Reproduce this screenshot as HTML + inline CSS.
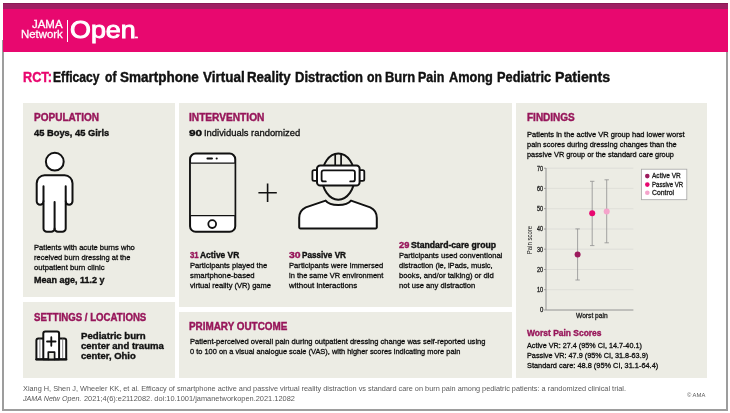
<!DOCTYPE html>
<html lang="en">
<head>
<meta charset="utf-8">
<title>RCT: Efficacy of Smartphone Virtual Reality Distraction on Burn Pain Among Pediatric Patients</title>
<style>
html,body{margin:0;padding:0;background:#fff;}
body{width:730px;height:413px;overflow:hidden;position:relative;font-family:"Liberation Sans",sans-serif;}
#frame{position:absolute;left:0;top:0;width:730px;height:413px;}
#border{position:absolute;left:2.4px;top:40px;width:721.7px;height:368.6px;border:2px solid #9d9d9d;border-top:none;box-sizing:content-box;}
#stripe{position:absolute;left:2.5px;top:2.9px;width:725.3px;height:6.7px;background:linear-gradient(#8a1a55 0,#8a1a55 0.9px,#9e1f63 0.9px);}
#banner{position:absolute;left:2.5px;top:9.45px;width:725.3px;height:42.15px;background:#e8086f;}
#logobar{position:absolute;left:67.1px;top:20.1px;width:0.9px;height:21.8px;background:#fff;}
.panel{position:absolute;background:#ecece4;}
#p-pop{left:22.8px;top:103px;width:152.2px;height:194.2px;}
#p-set{left:22.8px;top:302px;width:152.2px;height:75.7px;}
#p-int{left:179.3px;top:103px;width:333.1px;height:204.1px;}
#p-out{left:179.3px;top:311.6px;width:333.1px;height:66.1px;}
#p-fin{left:516.4px;top:103px;width:191px;height:274.7px;}
#art{position:absolute;left:0;top:0;width:730px;height:413px;}
#texts{position:absolute;left:0;top:0;width:730px;height:413px;}
.t{position:absolute;white-space:nowrap;transform-origin:0 0;display:block;line-height:20px;}
.ttl{-webkit-text-stroke:0.4px currentColor;}
.b{-webkit-text-stroke:0.38px currentColor;}
.h{-webkit-text-stroke:0.4px currentColor;}
.r{-webkit-text-stroke:0.3px currentColor;}
.lg{-webkit-text-stroke:0.3px currentColor;}
.op{-webkit-text-stroke:0.95px currentColor;}

</style>
</head>
<body>
<div id="frame">
<div id="border"></div>
<div id="stripe"></div>
<div id="banner"></div>
<div id="logobar"></div>
<div class="panel" id="p-pop"></div>
<div class="panel" id="p-set"></div>
<div class="panel" id="p-int"></div>
<div class="panel" id="p-out"></div>
<div class="panel" id="p-fin"></div>
<svg id="art" width="730" height="413" viewBox="0 0 730 413">
<!-- person icon -->
<g fill="#fff" stroke="#111" stroke-width="2" stroke-linejoin="round" stroke-linecap="round">
<circle cx="54.8" cy="161.7" r="8.9"/>
<path d="M44.6 175.3 H64.6 a7.9 7.9 0 0 1 7.9 7.9 V201.3 a3.4 3.4 0 0 1 -6.8 0 V228.4 a3.4 3.4 0 0 1 -3.4 3.4 H58 a3.4 3.4 0 0 1 -3.4 -3.4 a3.4 3.4 0 0 1 -3.4 3.4 H46.9 a3.4 3.4 0 0 1 -3.4 -3.4 V201.3 a3.4 3.4 0 0 1 -6.8 0 V183.2 a7.9 7.9 0 0 1 7.9 -7.9 Z"/>
<path d="M43.5 186.3 V201 M65.7 186.3 V201 M54.6 202 V228.4" fill="none"/>
</g>
<!-- phone icon -->
<g stroke="#111" stroke-linejoin="round" stroke-linecap="round">
<rect x="190.05" y="153.55" width="45.2" height="78.2" rx="5.6" ry="5.6" fill="#fff" stroke-width="2"/>
<rect x="190.9" y="163.1" width="43.5" height="52.6" fill="#ecece4" stroke="none"/>
<path d="M190.9 163.1 H234.4 M190.9 215.7 H234.4" fill="none" stroke-width="1.2"/>
<path d="M207.4 158.5 H212" fill="none" stroke-width="1.9"/>
<circle cx="216.7" cy="158.5" r="1.05" fill="#111" stroke="none"/>
<circle cx="212.2" cy="224.1" r="3.9" fill="#fff" stroke-width="1.8"/>
</g>
<!-- plus -->
<path d="M258.4 192.7 H276.8 M267.6 183.5 V201.9" fill="none" stroke="#111" stroke-width="1.6"/>
<!-- VR headset person -->
<g stroke="#111" stroke-width="2" stroke-linejoin="round" stroke-linecap="round">
<ellipse cx="338.3" cy="176.6" rx="16.4" ry="23.1" fill="#ecece4"/>
<path d="M335.2 154.4 V165 M341.1 154.4 V165" fill="none" stroke-width="1.7"/>
<rect x="312.4" y="170.1" width="6" height="10.8" rx="1.6" fill="#fff" stroke-width="1.8"/>
<rect x="358.3" y="170.1" width="6" height="10.8" rx="1.6" fill="#fff" stroke-width="1.8"/>
<rect x="317" y="165.4" width="42.6" height="20.2" rx="3.2" fill="#fff"/>
<path d="M325.8 181.4 H323.6 a2 2 0 0 1 -2 -2 V172.3 a2 2 0 0 1 2 -2 H352.9 a2 2 0 0 1 2 2 V179.4 a2 2 0 0 1 -2 2 H350.2" fill="none" stroke-width="1.8"/>
<path d="M325.6 200.6 C330 206.4 346.6 206.4 351 200.6 L370.2 207.4 C374.5 209.4 376.8 213.5 376.8 218 V227.2 a1.2 1.2 0 0 1 -1.2 1.2 H300.4 a1.2 1.2 0 0 1 -1.2 -1.2 V218 C299.2 213.5 301.5 209.4 305.8 207.4 Z" fill="#fff"/>
</g>
<!-- hospital icon -->
<g stroke="#111" stroke-width="2" stroke-linejoin="round" stroke-linecap="round" fill="#fff">
<path d="M36.4 359.3 V340.4 a2 2 0 0 1 2 -2 H64.2 a2 2 0 0 1 2 2 V359.3 Z"/>
<path d="M39.9 338.8 V359 M62.7 338.8 V359" fill="none" stroke="#666" stroke-width="0.8"/>
<path d="M43.3 359.3 V333.5 a2 2 0 0 1 2 -2 H57.1 a2 2 0 0 1 2 2 V359.3 Z"/>
<path d="M48.3 359.3 V352.2 H54.6 V359.3" fill="#ecece4" stroke-width="1.7"/>
<path d="M47 341.5 H55.6 M51.3 337.2 V345.8" fill="none" stroke-width="1.8"/>
<path d="M36.2 359.5 H66.4" fill="none" stroke-width="2"/>
</g>
<!-- chart -->
<g fill="none" stroke-linecap="butt">
<path d="M546 168.2 H633.4 M546 188.4 H633.4 M546 208.7 H633.4 M546 229 H633.4 M546 249.2 H633.4 M546 269.5 H633.4 M546 289.7 H633.4" stroke="#dcdcd6" stroke-width="0.8"/>
<path d="M546 168 V310 H633.4" stroke="#8a8a8a" stroke-width="0.9"/>
<path d="M544 168.2 H546 M544 188.4 H546 M544 208.7 H546 M544 229 H546 M544 249.2 H546 M544 269.5 H546 M544 289.7 H546 M544 310 H546" stroke="#8a8a8a" stroke-width="0.8"/>
<path d="M577.6 228.9 V280 M575.4 228.9 H579.8 M575.4 280 H579.8" stroke="#8f8f8f" stroke-width="0.8"/>
<path d="M592.2 181.3 V245.6 M590 181.3 H594.4 M590 245.6 H594.4" stroke="#8f8f8f" stroke-width="0.8"/>
<path d="M606.7 179.8 V242.8 M604.5 179.8 H608.9 M604.5 242.8 H608.9" stroke="#8f8f8f" stroke-width="0.8"/>
</g>
<circle cx="577.6" cy="254.4" r="3" fill="#9c1a5c"/>
<circle cx="592.2" cy="213.2" r="3" fill="#e8086f"/>
<circle cx="606.7" cy="211.5" r="3" fill="#f5a3cb"/>
<rect x="641.6" y="169.2" width="45.2" height="30.5" fill="#fff" stroke="#a5a5a5" stroke-width="0.8"/>
<circle cx="647.3" cy="176.1" r="2.3" fill="#9c1a5c"/>
<circle cx="647.3" cy="184.6" r="2.3" fill="#e8086f"/>
<circle cx="647.3" cy="192.8" r="2.3" fill="#f5a3cb"/>
<text transform="translate(532.2 254.2) rotate(-90)" font-family="'Liberation Sans', sans-serif" font-size="6.8" fill="#222" textLength="28.3" lengthAdjust="spacingAndGlyphs">Pain score</text>
</svg>

<div id="texts">
<span class="t lg" style="left:32.23px;top:14px;font-size:10.6px;font-weight:400;color:#fff;transform:scaleX(1.0802);">JAMA</span>
<span class="t lg" style="left:20.89px;top:24px;font-size:11.2px;font-weight:400;color:#fff;transform:scaleX(1.0190);">Network</span>
<span class="t op" style="left:70.49px;top:20px;font-size:24.2px;font-weight:400;color:#fff;transform:scaleX(1.1107);">Open</span>
<span class="t b" style="left:134.12px;top:26px;font-size:8px;font-weight:700;color:#fff;transform:scaleX(2.0690);">.</span>
<span class="t ttl" style="left:22.97px;top:67px;font-size:14.0px;font-weight:700;color:#e8086f;transform:scaleX(0.9066);">RCT:</span>
<span class="t ttl" style="left:52.96px;top:67px;font-size:14.0px;font-weight:700;color:#111;transform:scaleX(0.8670);">Efficacy</span>
<span class="t ttl" style="left:104.58px;top:67px;font-size:14.0px;font-weight:700;color:#111;transform:scaleX(0.8626);">of</span>
<span class="t ttl" style="left:119.86px;top:67px;font-size:14.0px;font-weight:700;color:#111;transform:scaleX(0.9643);">Smartphone</span>
<span class="t ttl" style="left:202.73px;top:67px;font-size:14.0px;font-weight:700;color:#111;transform:scaleX(0.9623);">Virtual</span>
<span class="t ttl" style="left:247.33px;top:67px;font-size:14.0px;font-weight:700;color:#111;transform:scaleX(0.9514);">Reality</span>
<span class="t ttl" style="left:295.15px;top:67px;font-size:14.0px;font-weight:700;color:#111;transform:scaleX(0.9305);">Distraction</span>
<span class="t ttl" style="left:367.17px;top:67px;font-size:14.0px;font-weight:700;color:#111;transform:scaleX(0.8755);">on</span>
<span class="t ttl" style="left:384.86px;top:67px;font-size:14.0px;font-weight:700;color:#111;transform:scaleX(0.9256);">Burn</span>
<span class="t ttl" style="left:418.49px;top:67px;font-size:14.0px;font-weight:700;color:#111;transform:scaleX(0.8884);">Pain</span>
<span class="t ttl" style="left:448.95px;top:67px;font-size:14.0px;font-weight:700;color:#111;transform:scaleX(0.9104);">Among</span>
<span class="t ttl" style="left:496.77px;top:67px;font-size:14.0px;font-weight:700;color:#111;transform:scaleX(0.9143);">Pediatric</span>
<span class="t ttl" style="left:554.88px;top:67px;font-size:14.0px;font-weight:700;color:#111;transform:scaleX(1.0104);">Patients</span>
<span class="t h" style="left:34.05px;top:108px;font-size:10.2px;font-weight:700;color:#97165a;transform:scaleX(0.9836);">POPULATION</span>
<span class="t b" style="left:33.55px;top:123px;font-size:9.8px;font-weight:700;color:#111;transform:scaleX(0.9531);">45 Boys, 45 Girls</span>
<span class="t r" style="left:33.95px;top:238px;font-size:7.9px;font-weight:400;color:#0d0d0d;transform:scaleX(0.9620);">Patients with acute burns who</span>
<span class="t r" style="left:33.95px;top:248px;font-size:7.9px;font-weight:400;color:#0d0d0d;transform:scaleX(0.9477);">received burn dressing at the</span>
<span class="t r" style="left:33.95px;top:258px;font-size:7.9px;font-weight:400;color:#0d0d0d;transform:scaleX(0.9749);">outpatient burn clinic</span>
<span class="t b" style="left:33.95px;top:270px;font-size:9.8px;font-weight:700;color:#111;transform:scaleX(0.9173);">Mean age, 11.2 y</span>
<span class="t h" style="left:33.95px;top:308px;font-size:10.2px;font-weight:700;color:#97165a;transform:scaleX(0.9461);">SETTINGS / LOCATIONS</span>
<span class="t b" style="left:80.65px;top:326px;font-size:9.7px;font-weight:700;color:#111;transform:scaleX(0.9941);">Pediatric burn</span>
<span class="t b" style="left:80.65px;top:336px;font-size:9.7px;font-weight:700;color:#111;transform:scaleX(0.9854);">center and trauma</span>
<span class="t b" style="left:80.65px;top:346px;font-size:9.7px;font-weight:700;color:#111;transform:scaleX(0.9774);">center, Ohio</span>
<span class="t h" style="left:188.95px;top:108px;font-size:10.2px;font-weight:700;color:#97165a;transform:scaleX(0.9958);">INTERVENTION</span>
<span class="t b" style="left:188.84px;top:123px;font-size:9.9px;font-weight:700;color:#111;transform:scaleX(1.1973);">90</span>
<span class="t r" style="left:204.25px;top:123px;font-size:9.7px;font-weight:400;color:#0d0d0d;transform:scaleX(0.9709);">Individuals randomized</span>
<span class="t b" style="left:189.74px;top:245px;font-size:8.9px;font-weight:700;color:#97165a;transform:scaleX(0.8747);">31</span>
<span class="t b" style="left:200.35px;top:245px;font-size:8.9px;font-weight:700;color:#111;transform:scaleX(0.9481);">Active VR</span>
<span class="t r" style="left:189.65px;top:256px;font-size:7.9px;font-weight:400;color:#0d0d0d;transform:scaleX(0.9667);">Participants played the</span>
<span class="t r" style="left:189.65px;top:266px;font-size:7.9px;font-weight:400;color:#0d0d0d;transform:scaleX(0.9826);">smartphone-based</span>
<span class="t r" style="left:189.65px;top:276px;font-size:7.9px;font-weight:400;color:#0d0d0d;transform:scaleX(0.9579);">virtual reality (VR) game</span>
<span class="t b" style="left:288.59px;top:245px;font-size:8.9px;font-weight:700;color:#97165a;transform:scaleX(1.1702);">30</span>
<span class="t b" style="left:302.25px;top:245px;font-size:8.9px;font-weight:700;color:#111;transform:scaleX(0.9187);">Passive VR</span>
<span class="t r" style="left:288.55px;top:256px;font-size:7.9px;font-weight:400;color:#0d0d0d;transform:scaleX(0.9677);">Participants were immersed</span>
<span class="t r" style="left:288.55px;top:266px;font-size:7.9px;font-weight:400;color:#0d0d0d;transform:scaleX(0.9478);">in the same VR environment</span>
<span class="t r" style="left:288.55px;top:276px;font-size:7.9px;font-weight:400;color:#0d0d0d;transform:scaleX(1.0104);">without interactions</span>
<span class="t b" style="left:398.52px;top:235px;font-size:8.9px;font-weight:700;color:#97165a;transform:scaleX(1.0418);">29</span>
<span class="t b" style="left:410.95px;top:235px;font-size:8.9px;font-weight:700;color:#111;transform:scaleX(0.9734);">Standard-care group</span>
<span class="t r" style="left:398.55px;top:246px;font-size:7.9px;font-weight:400;color:#0d0d0d;transform:scaleX(0.9652);">Participants used conventional</span>
<span class="t r" style="left:398.55px;top:256px;font-size:7.9px;font-weight:400;color:#0d0d0d;transform:scaleX(0.9539);">distraction (ie, iPads, music,</span>
<span class="t r" style="left:398.55px;top:266px;font-size:7.9px;font-weight:400;color:#0d0d0d;transform:scaleX(0.9737);">books, and/or talking) or did</span>
<span class="t r" style="left:398.55px;top:276px;font-size:7.9px;font-weight:400;color:#0d0d0d;transform:scaleX(0.9655);">not use any distraction</span>
<span class="t h" style="left:189.25px;top:317px;font-size:10.2px;font-weight:700;color:#97165a;transform:scaleX(0.9704);">PRIMARY OUTCOME</span>
<span class="t r" style="left:190.25px;top:332px;font-size:7.9px;font-weight:400;color:#0d0d0d;transform:scaleX(0.9568);">Patient-perceived overall pain during outpatient dressing change was self-reported using</span>
<span class="t r" style="left:190.25px;top:342px;font-size:7.9px;font-weight:400;color:#0d0d0d;transform:scaleX(0.9413);">0 to 100 on a visual analogue scale (VAS), with higher scores indicating more pain</span>
<span class="t h" style="left:527.15px;top:108px;font-size:10.2px;font-weight:700;color:#97165a;transform:scaleX(0.9813);">FINDINGS</span>
<span class="t r" style="left:527.15px;top:125px;font-size:7.9px;font-weight:400;color:#0d0d0d;transform:scaleX(0.9499);">Patients in the active VR group had lower worst</span>
<span class="t r" style="left:527.15px;top:135px;font-size:7.9px;font-weight:400;color:#0d0d0d;transform:scaleX(0.9400);">pain scores during dressing changes than the</span>
<span class="t r" style="left:527.15px;top:145px;font-size:7.9px;font-weight:400;color:#0d0d0d;transform:scaleX(0.9328);">passive VR group or the standard care group</span>
<span class="t b" style="left:527.05px;top:323px;font-size:9.1px;font-weight:700;color:#97165a;transform:scaleX(0.9291);">Worst Pain Scores</span>
<span class="t r" style="left:527.05px;top:336px;font-size:7.9px;font-weight:400;color:#0d0d0d;transform:scaleX(0.9155);">Active VR: 27.4 (95% CI, 14.7-40.1)</span>
<span class="t r" style="left:527.05px;top:346px;font-size:7.9px;font-weight:400;color:#0d0d0d;transform:scaleX(0.9206);">Passive VR: 47.9 (95% CI, 31.8-63.9)</span>
<span class="t r" style="left:527.05px;top:356px;font-size:7.9px;font-weight:400;color:#0d0d0d;transform:scaleX(0.9349);">Standard care: 48.8 (95% CI, 31.1-64.4)</span>
<span class="t ft" style="left:22.75px;top:379px;font-size:7.3px;font-weight:400;color:#5a5a5a;transform:scaleX(1.0047);">Xiang H, Shen J, Wheeler KK, et al. Efficacy of smartphone active and passive virtual reality distraction vs standard care on burn pain among pediatric patients: a randomized clinical trial.</span>
<span class="t ft" style="left:22.95px;top:389px;font-size:7.3px;font-weight:400;color:#5a5a5a;transform:scaleX(0.9775);font-style:italic;">JAMA Netw Open.</span>
<span class="t ft" style="left:83.75px;top:389px;font-size:7.3px;font-weight:400;color:#5a5a5a;transform:scaleX(1.0160);">2021;4(6):e2112082. doi:10.1001/jamanetworkopen.2021.12082</span>
<span class="t ft" style="left:687.15px;top:385px;font-size:5.6px;font-weight:400;color:#5a5a5a;transform:scaleX(1.0458);">© AMA</span>
<span class="t r" style="left:540.09px;top:300px;font-size:6.8px;font-weight:400;color:#222;transform:scaleX(0.8793);">0</span>
<span class="t r" style="left:537.18px;top:280px;font-size:6.8px;font-weight:400;color:#222;transform:scaleX(0.8226);">10</span>
<span class="t r" style="left:537.33px;top:260px;font-size:6.8px;font-weight:400;color:#222;transform:scaleX(0.8025);">20</span>
<span class="t r" style="left:537.41px;top:240px;font-size:6.8px;font-weight:400;color:#222;transform:scaleX(0.7910);">30</span>
<span class="t r" style="left:537.49px;top:219px;font-size:6.8px;font-weight:400;color:#222;transform:scaleX(0.7797);">40</span>
<span class="t r" style="left:537.38px;top:199px;font-size:6.8px;font-weight:400;color:#222;transform:scaleX(0.7948);">50</span>
<span class="t r" style="left:537.33px;top:179px;font-size:6.8px;font-weight:400;color:#222;transform:scaleX(0.8025);">60</span>
<span class="t r" style="left:537.33px;top:159px;font-size:6.8px;font-weight:400;color:#222;transform:scaleX(0.8025);">70</span>
<span class="t r" style="left:575.55px;top:306px;font-size:6.8px;font-weight:400;color:#222;transform:scaleX(0.9778);">Worst pain</span>
<span class="t r" style="left:651.75px;top:166px;font-size:6.8px;font-weight:400;color:#222;transform:scaleX(0.9622);">Active VR</span>
<span class="t r" style="left:651.75px;top:175px;font-size:6.8px;font-weight:400;color:#222;transform:scaleX(0.8879);">Passive VR</span>
<span class="t r" style="left:651.75px;top:183px;font-size:6.8px;font-weight:400;color:#222;transform:scaleX(1.0071);">Control</span>
</div>
</div>
</body>
</html>
